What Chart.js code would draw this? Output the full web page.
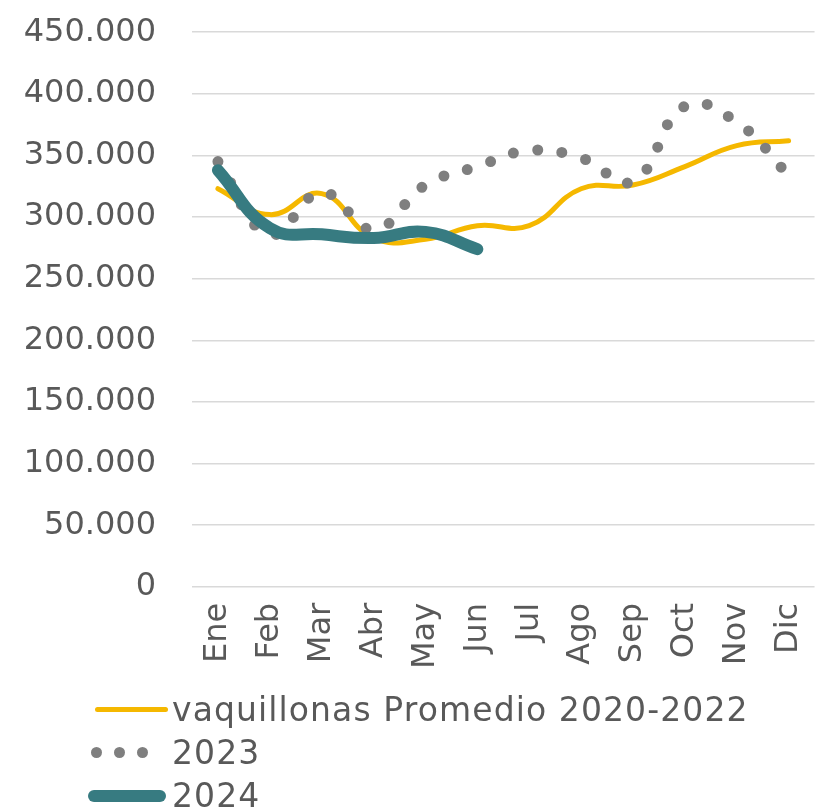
<!DOCTYPE html>
<html>
<head>
<meta charset="utf-8">
<script src="https://cdn.jsdelivr.net/npm/chart.js@4/dist/chart.umd.min.js"></script>
<style>
  html,body{margin:0;padding:0;background:#fff;}
  #wrap{position:relative;width:816px;height:812px;overflow:hidden;}
  #c{position:absolute;left:0;top:-23px;}
  #legend{position:absolute;left:88px;top:688px;font-family:"DejaVu Sans",sans-serif;font-size:33px;letter-spacing:1.1px;color:#595959;}
  .row{display:flex;align-items:center;height:43px;}
  .sym{width:84px;display:flex;align-items:center;}
  .dot{width:11px;height:11px;border-radius:50%;background:#7f7f7f;margin-right:12px;}
</style>
</head>
<body>
<div id="wrap">
  <canvas id="c" width="835" height="835"></canvas>
  <div id="legend"></div>
</div>
<script>
const months = ["Ene","Feb","Mar","Abr","May","Jun","Jul","Ago","Sep","Oct","Nov","Dic"];
const seriesNames = ["vaquillonas Promedio 2020-2022","2023","2024"];
const promedio = [323000,302000,319000,283000,282000,293000,293000,323000,326000,341000,358000,362000];
const v2023 = [345000,286000,320000,290000,326000,341000,354000,348000,329000,390000,377000,334000];
const v2024 = [338000,291000,286000,283000,288000,274000];
const yMin = 0, yMax = 450000, yStep = 50000;

const txt = "#595959";
const fmt = v => String(v).replace(/\B(?=(\d{3})+(?!\d))/g, ".");

new Chart(document.getElementById("c"), {
  type: "line",
  data: {
    labels: months,
    datasets: [
      {label: seriesNames[0], data: promedio, borderColor: "#f5b800", borderWidth: 5, tension: .45, pointRadius: 0, borderCapStyle: "round", order: 3},
      {label: seriesNames[1], data: v2023, borderColor: "#7f7f7f", borderWidth: 11, borderDash: [0, 24.5], borderCapStyle: "round", tension: .45, pointRadius: 0, order: 2},
      {label: seriesNames[2], data: v2024, borderColor: "#377b81", borderWidth: 12, borderCapStyle: "round", borderJoinStyle: "round", tension: .45, pointRadius: 0, order: 1}
    ]
  },
  options: {
    responsive: false,
    animation: false,
    layout: {padding: {top: 0, left: 20, right: 0, bottom: 135}},
    plugins: {legend: {display: false}, tooltip: {enabled: false}},
    scales: {
      x: {
        offset: true,
        grid: {display: false},
        border: {display: false},
        ticks: {color: txt, font: {family: "DejaVu Sans", size: 32}, minRotation: 90, maxRotation: 90, padding: 8}
      },
      y: {
        min: yMin, max: yMax,
        afterFit: s => { s.width = 172; },
        grid: {color: "#d9d9d9", lineWidth: 1.5, drawTicks: false},
        border: {display: false},
        ticks: {stepSize: yStep, color: txt, font: {family: "DejaVu Sans", size: 32}, padding: 36, callback: v => fmt(v)}
      }
    }
  }
});

const legend = document.getElementById("legend");
const syms = [
  '<div style="width:73px;height:5px;border-radius:3px;background:#f5b800;margin-left:7px"></div>',
  '<div style="display:flex;margin-left:3px"><span class="dot"></span><span class="dot"></span><span class="dot"></span></div>',
  '<div style="width:78px;height:12px;border-radius:6px;background:#377b81"></div>'
];
seriesNames.forEach((n, i) => {
  const row = document.createElement("div");
  row.className = "row";
  row.innerHTML = `<div class="sym">${syms[i]}</div><span>${n}</span>`;
  legend.appendChild(row);
});
</script>
</body>
</html>
